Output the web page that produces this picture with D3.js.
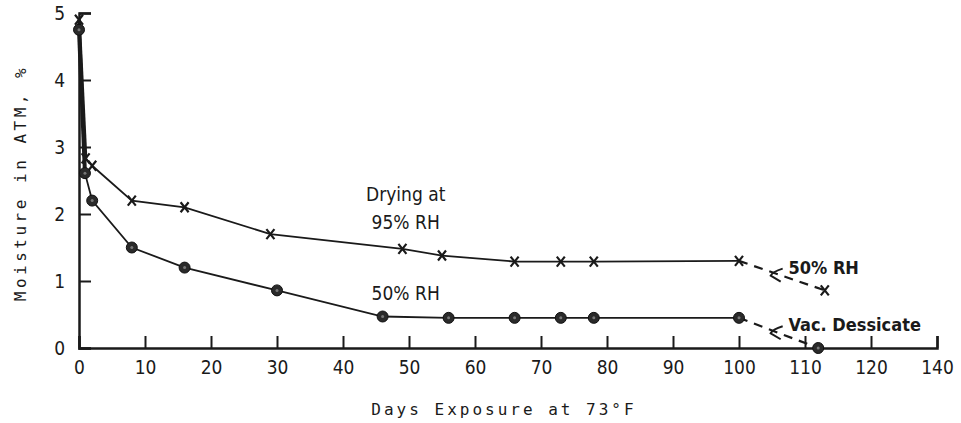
<!DOCTYPE html>
<html>
<head>
<meta charset="utf-8">
<script src="https://cdn.jsdelivr.net/npm/d3@7"></script>
<style>
  body { margin: 0; background: #fff; }
  text { fill: #1a1a1a; }
</style>
</head>
<body>
<div id="vis"></div>
<script>
// values
const xTicks = [0, 10, 20, 30, 40, 50, 60, 70, 80, 90, 100, 110, 120, 130];
const xTickLabels = ["0", "10", "20", "30", "40", "50", "60", "70", "80", "90", "100", "110", "120", "140"];
const yTicks = [0, 1, 2, 3, 4, 5];

// 95% RH drying (x marks)
const dryDays = [0, 1, 2, 8, 16, 29, 49, 55, 66, 73, 78, 100];
const dryMoist = [4.9, 2.83, 2.72, 2.2, 2.1, 1.7, 1.48, 1.38, 1.29, 1.29, 1.29, 1.3];
const dry50Days = [100, 113];
const dry50Moist = [1.3, 0.86];

// 50% RH (circles)
const rhDays = [0, 0.9, 2, 8, 16, 30, 46, 56, 66, 73, 78, 100];
const rhMoist = [4.75, 2.61, 2.2, 1.5, 1.2, 0.86, 0.47, 0.45, 0.45, 0.45, 0.45, 0.45];
const vacDays = [100, 112];
const vacMoist = [0.45, 0.0];

const svg = d3.select("#vis")
    .append("svg")
    .attr("width", 961)
    .attr("height", 423);

const x = d3.scaleLinear().domain([0, 130]).range([79, 937]);
const y = d3.scaleLinear().domain([0, 5]).range([348, 13]);

const ink = "#1a1a1a";

// axes
const xAxis = d3.axisBottom(x)
    .tickValues(xTicks)
    .tickSize(-12)
    .tickPadding(20)
    .tickFormat((d, i) => xTickLabels[i]);

const yAxis = d3.axisLeft(y)
    .tickValues(yTicks)
    .tickSize(-12)
    .tickPadding(14)
    .tickFormat(d3.format("d"));

const gx = svg.append("g")
    .attr("transform", "translate(0," + y(0) + ")")
    .call(xAxis);
const gy = svg.append("g")
    .attr("transform", "translate(" + x(0) + ",0)")
    .call(yAxis);

[gx, gy].forEach(g => {
    g.select(".domain").attr("stroke", ink).attr("stroke-width", 2.5);
    g.selectAll(".tick line").attr("stroke", ink).attr("stroke-width", 2);
    g.selectAll(".tick text")
        .style("font-family", "'DejaVu Sans Condensed', 'DejaVu Sans'")
        .style("font-size", "19px")
        .attr("fill", ink);
});
gx.selectAll(".tick text").attr("dy", "0.3em");
gy.selectAll(".tick text").attr("dy", "0.36em");

const line = d3.line().x(d => x(d[0])).y(d => y(d[1]));

function drawSeries(days, vals, dashed, width) {
    svg.append("path")
        .datum(d3.zip(days, vals))
        .attr("fill", "none")
        .attr("stroke", ink)
        .attr("stroke-width", width)
        .attr("stroke-dasharray", dashed ? "9,7" : null)
        .attr("d", line);
}

// steep initial drop is drawn heavier
drawSeries(dryDays.slice(0, 2), dryMoist.slice(0, 2), false, 3.5);
drawSeries(rhDays.slice(0, 2), rhMoist.slice(0, 2), false, 4);
drawSeries(dryDays.slice(1), dryMoist.slice(1), false, 1.8);
drawSeries(rhDays.slice(1), rhMoist.slice(1), false, 1.8);
drawSeries(dry50Days, dry50Moist, true, 2.2);
drawSeries(vacDays, vacMoist, true, 2.2);

// cross markers
const crossPts = d3.zip(dryDays, dryMoist).concat(d3.zip(dry50Days, dry50Moist).slice(1));
svg.append("g").selectAll("path")
    .data(crossPts)
    .join("path")
    .attr("transform", d => "translate(" + x(d[0]) + "," + y(d[1]) + ")")
    .attr("d", "M-4,-5L4,5M4,-5L-4,5")
    .attr("stroke", ink)
    .attr("stroke-width", 2.2)
    .attr("fill", "none");

// circle markers
const circPts = d3.zip(rhDays, rhMoist).concat(d3.zip(vacDays, vacMoist).slice(1));
svg.append("g").selectAll("circle")
    .data(circPts)
    .join("circle")
    .attr("cx", d => x(d[0]))
    .attr("cy", d => y(d[1]))
    .attr("r", 5.5)
    .attr("fill", "#2a2a2a")
    .attr("stroke", "#111")
    .attr("stroke-width", 1);
svg.append("g").selectAll("circle")
    .data(circPts)
    .join("circle")
    .attr("cx", d => x(d[0]))
    .attr("cy", d => y(d[1]))
    .attr("r", 1.5)
    .attr("fill", "#777");

// annotations
const annFont = "'DejaVu Sans Condensed', 'DejaVu Sans'";
function note(tx, ty, str, size, anchor, weight) {
    svg.append("text")
        .attr("x", tx).attr("y", ty)
        .attr("text-anchor", anchor || "start")
        .style("font-family", annFont)
        .style("font-size", size + "px")
        .style("font-weight", weight || "normal")
        .text(str);
}
note(x(49.5), y(2.2), "Drying at", 19, "middle");
note(x(49.5), y(1.78), "95% RH", 19, "middle");
note(x(49.5), y(0.72), "50% RH", 19, "middle");
note(x(107.5), y(1.1), "50% RH", 18, "start", "bold");
note(x(107.5), y(0.26), "Vac. Dessicate", 18, "start", "bold");

// little hook leaders
function hook(hx, hy) {
    svg.append("path")
        .attr("d", "M" + (hx + 12) + "," + (hy - 7) +
                   "Q" + (hx + 2) + "," + (hy - 4) + " " + hx + "," + hy +
                   "L" + (hx + 10) + "," + (hy + 6))
        .attr("fill", "none")
        .attr("stroke", ink)
        .attr("stroke-width", 2);
}
hook(x(104.8), y(1.08));
hook(x(104.8), y(0.22));

// axis titles
svg.append("text")
    .attr("x", 504).attr("y", 415)
    .attr("text-anchor", "middle")
    .style("font-family", "'DejaVu Sans Mono'")
    .style("font-size", "16px")
    .style("letter-spacing", "3px")
    .text("Days Exposure at 73\u00B0F");

svg.append("text")
    .attr("transform", "translate(26,183) rotate(-90)")
    .attr("text-anchor", "middle")
    .style("font-family", "'DejaVu Sans Mono'")
    .style("font-size", "16px")
    .style("letter-spacing", "3.5px")
    .text("Moisture in ATM, %");
</script>
</body>
</html>
